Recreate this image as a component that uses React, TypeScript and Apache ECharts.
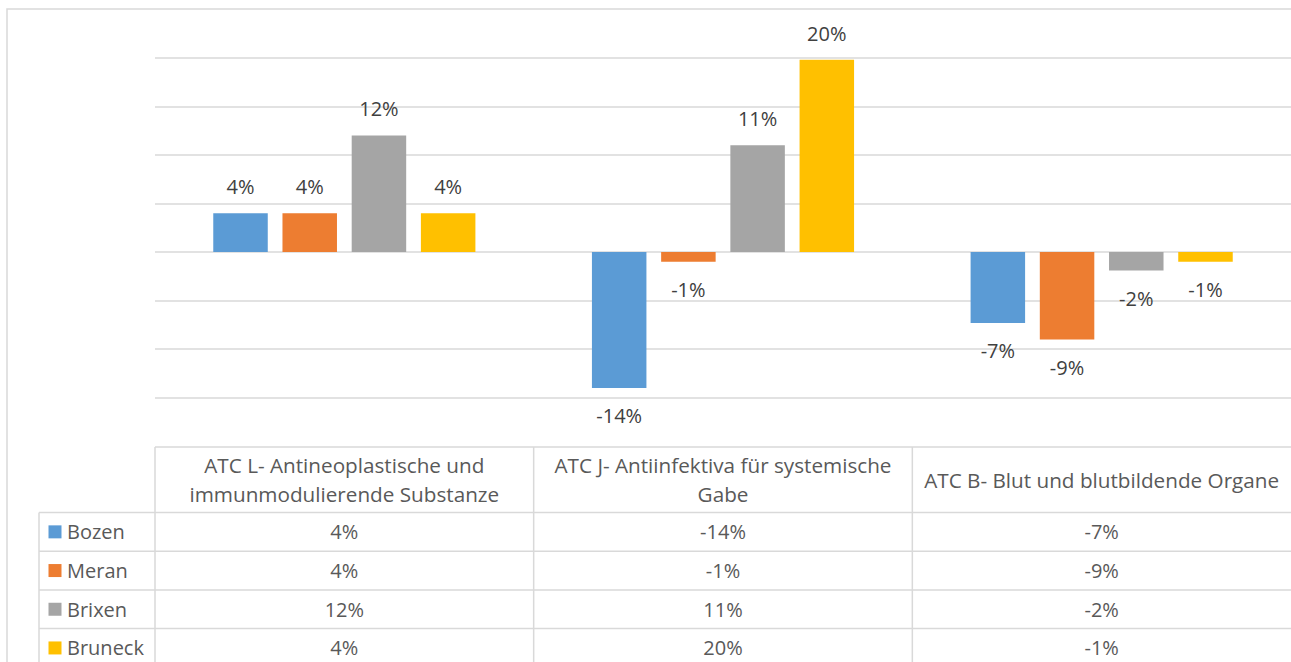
import React, { useEffect, useRef } from "react";
import * as echarts from "echarts";

const categories = [
  "ATC L- Antineoplastische und\nimmunmodulierende Substanze",
  "ATC J- Antiinfektiva für systemische\nGabe",
  "ATC B- Blut und blutbildende Organe",
];
const seriesNames = ["Bozen", "Meran", "Brixen", "Bruneck"];
const bozen = [4, -14, -7.3];
const meran = [4, -1, -9];
const brixen = [12, 11, -1.9];
const bruneck = [4, 19.8, -1];
const yTicks = { min: -15, max: 20, interval: 5 };

const seriesValues = [bozen, meran, brixen, bruneck];
const colors = ["#5B9BD5", "#ED7D31", "#A5A5A5", "#FFC000"];

const W = 1291;
const H = 662;
const GRID_LEFT = 155;
const GRID_RIGHT = 0;
const GRID_TOP = 57.7;
const GRID_H = 340;
const FONT = "'Open Sans', sans-serif";
const LINE = "#d9d9d9";

const fmt = (v: number) => Math.round(v) + "%";

export default function App() {
  const ref = useRef<HTMLDivElement>(null);
  useEffect(() => {
    if (!ref.current) return;
    const chart = echarts.init(ref.current, undefined, { renderer: "svg" });

    const plotW = W - GRID_LEFT - GRID_RIGHT;
    const colW = plotW / categories.length;
    const headTop = 447;
    const headBottom = 512.5;
    const rowH = 38.7;
    const tableBottom = headBottom + rowH * seriesNames.length;
    const legendLeft = 39;

    const g: any[] = [];
    // outer chart border
    g.push({
      type: "rect",
      shape: { x: 7, y: 9, width: W + 20, height: H + 20 },
      style: { fill: "none", stroke: LINE, lineWidth: 1.5 },
      silent: true,
    });
    // header top line
    g.push({
      type: "line",
      shape: { x1: GRID_LEFT, y1: headTop, x2: W, y2: headTop },
      style: { stroke: LINE, lineWidth: 1.5 },
    });
    // row lines
    for (let r = 0; r <= seriesNames.length; r++) {
      const y = headBottom + r * rowH;
      g.push({
        type: "line",
        shape: { x1: legendLeft, y1: y, x2: W, y2: y },
        style: { stroke: LINE, lineWidth: 1.5 },
      });
    }
    // verticals
    g.push({
      type: "line",
      shape: { x1: legendLeft, y1: headBottom, x2: legendLeft, y2: tableBottom },
      style: { stroke: LINE, lineWidth: 1.5 },
    });
    for (let c = 0; c < categories.length; c++) {
      const x = GRID_LEFT + c * colW;
      g.push({
        type: "line",
        shape: { x1: x, y1: headTop, x2: x, y2: tableBottom },
        style: { stroke: LINE, lineWidth: 1.5 },
      });
    }
    // header texts
    categories.forEach((cat, c) => {
      g.push({
        type: "text",
        style: {
          text: cat,
          x: GRID_LEFT + (c + 0.5) * colW,
          y: (headTop + headBottom) / 2,
          align: "center",
          verticalAlign: "middle",
          fontSize: 20.7,
          fontFamily: FONT,
          lineHeight: 29,
          fill: "#595959",
        },
      });
    });
    // rows
    seriesNames.forEach((name, r) => {
      const cy = headBottom + (r + 0.5) * rowH;
      g.push({
        type: "rect",
        shape: { x: 48.5, y: cy - 6.5, width: 13, height: 13 },
        style: { fill: colors[r] },
      });
      g.push({
        type: "text",
        style: {
          text: name,
          x: 67,
          y: cy,
          align: "left",
          verticalAlign: "middle",
          fontSize: 20,
          fontFamily: FONT,
          fill: "#595959",
        },
      });
      seriesValues[r].forEach((v, c) => {
        g.push({
          type: "text",
          style: {
            text: fmt(v),
            x: GRID_LEFT + (c + 0.5) * colW,
            y: cy,
            align: "center",
            verticalAlign: "middle",
            fontSize: 20,
            fontFamily: FONT,
            fill: "#595959",
          },
        });
      });
    });

    chart.setOption({
      animation: false,
      backgroundColor: "#ffffff",
      grid: { left: GRID_LEFT, right: GRID_RIGHT, top: GRID_TOP, height: GRID_H, containLabel: false },
      xAxis: {
        type: "category",
        data: categories,
        show: false,
      },
      yAxis: {
        type: "value",
        min: yTicks.min,
        max: yTicks.max,
        interval: yTicks.interval,
        axisLabel: { show: false },
        axisLine: { show: false },
        axisTick: { show: false },
        splitLine: { show: true, lineStyle: { color: LINE, width: 1.5 } },
      },
      series: seriesNames.map((name, i) => ({
        name,
        type: "bar",
        barWidth: 54.5,
        barGap: "27%",
        itemStyle: { color: colors[i] },
        label: {
          show: true,
          formatter: (p: any) => fmt(p.value),
          fontSize: 20,
          fontFamily: FONT,
          color: "#404040",
        },
        data: seriesValues[i].map((v) => ({
          value: v,
          label: { position: v < 0 ? "bottom" : "top", distance: v < 0 ? 18 : 16.5 },
        })),
      })),
      graphic: g,
    });

    return () => chart.dispose();
  }, []);

  return (
    <div
      ref={ref}
      style={{ position: "absolute", left: 0, top: 0, width: W, height: H }}
    />
  );
}
